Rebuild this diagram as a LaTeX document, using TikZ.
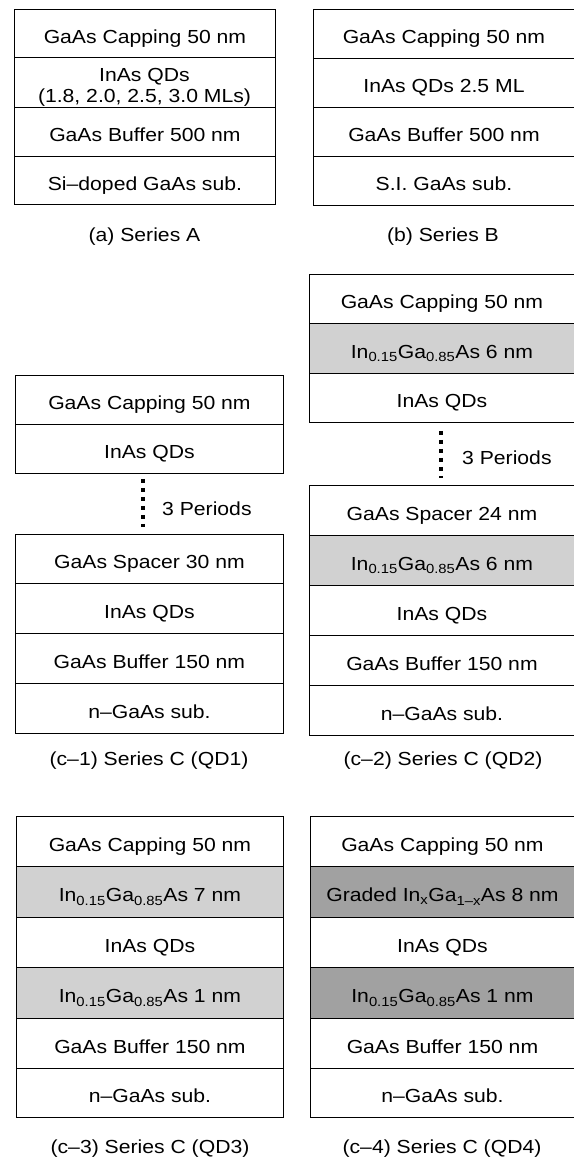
\documentclass[tikz,border=0pt]{standalone}
\usepackage{fontspec}
\setmainfont{Liberation Sans}[FakeStretch=1.12]
\newcommand\lyrfont{\fontsize{18.9}{21}\selectfont}
\newcommand\mylayer[7][]{%
  \node[layer,#1,minimum width={#4pt-#3pt},minimum height={#6pt-#5pt}] (#2) at (#3,#5) {#7};}
\newcommand\ingaas[1]{In\textsubscript{0.15}Ga\textsubscript{0.85}As #1 nm}
\begin{document}
\begin{tikzpicture}[x=1pt,y=-1pt,
  layer/.style={draw, line width=0.9pt, inner sep=0pt, anchor=north west,
    text height=20pt, text depth=0pt, font=\lyrfont},
  lightfill/.style={fill=black!18},
  darkfill/.style={fill=black!37},
  lbl/.style={inner sep=0pt, anchor=base, font=\lyrfont},
  periods/.style={line width=4pt, dash pattern=on 4pt off 5pt}]
\useasboundingbox (0,0) rectangle (573,1158);

% (a) Series A
\mylayer{a1}{14}{275}{9}{57}{GaAs Capping 50 nm}
\mylayer{a2}{14}{275}{57}{107}{}
\node[lbl] (a2t1) at (144.5,82) {InAs QDs};
\node[lbl] (a2t2) at (144.5,103) {(1.8, 2.0, 2.5, 3.0 MLs)};
\mylayer{a3}{14}{275}{107}{156}{GaAs Buffer 500 nm}
\mylayer{a4}{14}{275}{156}{204}{Si--doped GaAs sub.}
\node[lbl] (capa) at (144.5,241) {(a) Series A};

% (b) Series B
\mylayer{b1}{313}{574}{9}{58}{GaAs Capping 50 nm}
\mylayer{b2}{313}{574}{58}{107}{InAs QDs 2.5 ML}
\mylayer{b3}{313}{574}{107}{156}{GaAs Buffer 500 nm}
\mylayer{b4}{313}{574}{156}{205}{S.I. GaAs sub.}
\node[lbl] (capb) at (443,241) {(b) Series B};

% (c-1)
\mylayer{ca1}{15}{283}{375}{424}{GaAs Capping 50 nm}
\mylayer{ca2}{15}{283}{424}{473}{InAs QDs}
\mylayer{ca3}{15}{283}{534}{583}{GaAs Spacer 30 nm}
\mylayer{ca4}{15}{283}{583}{633}{InAs QDs}
\mylayer{ca5}{15}{283}{633}{683}{GaAs Buffer 150 nm}
\mylayer{ca6}{15}{283}{683}{733}{n--GaAs sub.}
\draw[periods, shorten <=5pt, shorten >=7pt] ([xshift=-6pt]ca2.south) -- ([xshift=-6pt]ca3.north);
\node[lbl, anchor=base west] (pera) at (162,515) {3 Periods};
\node[lbl] (capc1) at (149,765) {(c--1) Series C (QD1)};

% (c-2)
\mylayer{cb1}{309}{574}{274}{323}{GaAs Capping 50 nm}
\mylayer[lightfill]{cb2}{309}{574}{323}{373}{\ingaas{6}}
\mylayer{cb3}{309}{574}{373}{422}{InAs QDs}
\mylayer{cb4}{309}{574}{485}{535}{GaAs Spacer 24 nm}
\mylayer[lightfill]{cb5}{309}{574}{535}{585}{\ingaas{6}}
\mylayer{cb6}{309}{574}{585}{635}{InAs QDs}
\mylayer{cb7}{309}{574}{635}{685}{GaAs Buffer 150 nm}
\mylayer{cb8}{309}{574}{685}{735}{n--GaAs sub.}
\draw[periods, shorten <=8pt, shorten >=7pt] ([xshift=-0.5pt]cb3.south) -- ([xshift=-0.5pt]cb4.north);
\node[lbl, anchor=base west] (perb) at (462,464) {3 Periods};
\node[lbl] (capc2) at (443,765) {(c--2) Series C (QD2)};

% (c-3)
\mylayer{cc1}{16}{283}{816}{866}{GaAs Capping 50 nm}
\mylayer[lightfill]{cc2}{16}{283}{866}{917}{\ingaas{7}}
\mylayer{cc3}{16}{283}{917}{967}{InAs QDs}
\mylayer[lightfill]{cc4}{16}{283}{967}{1018}{\ingaas{1}}
\mylayer{cc5}{16}{283}{1018}{1068}{GaAs Buffer 150 nm}
\mylayer{cc6}{16}{283}{1068}{1117}{n--GaAs sub.}
\node[lbl] (capc3) at (150,1153) {(c--3) Series C (QD3)};

% (c-4)
\mylayer{cd1}{310}{574}{816}{866}{GaAs Capping 50 nm}
\mylayer[darkfill]{cd2}{310}{574}{866}{917}{Graded In\textsubscript{x}Ga\textsubscript{1--x}As 8 nm}
\mylayer{cd3}{310}{574}{917}{967}{InAs QDs}
\mylayer[darkfill]{cd4}{310}{574}{967}{1018}{\ingaas{1}}
\mylayer{cd5}{310}{574}{1018}{1068}{GaAs Buffer 150 nm}
\mylayer{cd6}{310}{574}{1068}{1117}{n--GaAs sub.}
\node[lbl] (capc4) at (442,1153) {(c--4) Series C (QD4)};
\end{tikzpicture}
\end{document}
